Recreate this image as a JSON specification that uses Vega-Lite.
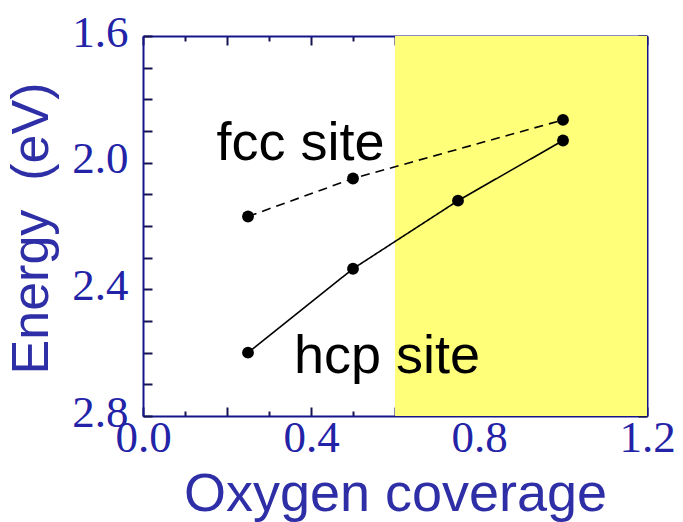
{
  "$schema": "https://vega.github.io/schema/vega-lite/v6.json",
  "autosize": "none",
  "width": 504,
  "height": 380,
  "padding": {"left": 143, "top": 36, "right": 36, "bottom": 106},
  "background": "white",
  "config": {
    "view": {"stroke": null},
    "axis": {
      "domainColor": "#16168a",
      "domainWidth": 2,
      "tickColor": "#141450",
      "tickWidth": 2,
      "grid": false,
      "labelFont": "Liberation Serif",
      "labelFontSize": 45,
      "labelColor": "#2323a8",
      "titleFont": "Liberation Sans",
      "titleFontSize": 52,
      "titleFontWeight": "normal",
      "titleColor": "#2e2ea6"
    }
  },
  "datasets": {
    "region": [{"x0": 0.6, "x1": 1.2, "y0": 1.6, "y1": 2.8}],
    "energy": [
      {"site": "fcc", "coverage": 0.25, "energy": 2.17},
      {"site": "fcc", "coverage": 0.5, "energy": 2.05},
      {"site": "fcc", "coverage": 1.0, "energy": 1.865},
      {"site": "hcp", "coverage": 0.25, "energy": 2.6},
      {"site": "hcp", "coverage": 0.5, "energy": 2.335},
      {"site": "hcp", "coverage": 0.75, "energy": 2.12},
      {"site": "hcp", "coverage": 1.0, "energy": 1.93}
    ],
    "labels": [
      {"text": "fcc site", "coverage": 0.375, "energy": 1.99},
      {"text": "hcp site", "coverage": 0.581, "energy": 2.665}
    ]
  },
  "resolve": {"axis": {"x": "independent", "y": "independent"}},
  "layer": [
    {
      "data": {"name": "region"},
      "mark": {"type": "rect", "color": "#ffff7a"},
      "encoding": {
        "x": {
          "field": "x0", "type": "quantitative",
          "scale": {"domain": [0, 1.2], "nice": false, "zero": false},
          "axis": {
            "orient": "bottom",
            "title": "Oxygen coverage",
            "titleFontSize": 54,
            "titleBaseline": "alphabetic",
            "titleY": 94,
            "values": [0, 0.1, 0.2, 0.3, 0.4, 0.5, 0.6, 0.7, 0.8, 0.9, 1.0, 1.1, 1.2],
            "labelExpr": "round(datum.value * 10) % 4 == 0 ? format(datum.value, '.1f') : ''",
            "tickSize": {"condition": {"test": "round(datum.value * 10) % 2 == 0", "value": -9}, "value": -5},
            "labelPadding": 8,
            "labelBaseline": "top",
            "labelFlush": false,
            "labelOverlap": false
          }
        },
        "x2": {"field": "x1"},
        "y": {
          "field": "y0", "type": "quantitative",
          "scale": {"domain": [1.6, 2.8], "nice": false, "zero": false, "reverse": true},
          "axis": {
            "orient": "left",
            "title": "Energy\u00a0\u00a0(eV)",
            "titleBaseline": "middle",
            "titleX": -112,
            "titleY": 192,
            "values": [1.6, 1.7, 1.8, 1.9, 2.0, 2.1, 2.2, 2.3, 2.4, 2.5, 2.6, 2.7, 2.8],
            "labelExpr": "round(datum.value * 10) % 4 == 0 ? format(datum.value, '.1f') : ''",
            "tickSize": -9,
            "labelPadding": 24,
            "labelOffset": -4,
            "labelBaseline": "middle",
            "labelFlush": false,
            "labelOverlap": false
          }
        },
        "y2": {"field": "y1"}
      }
    },
    {
      "data": {"name": "energy"},
      "mark": {"type": "line", "color": "black", "strokeWidth": 1.6},
      "encoding": {
        "x": {
          "field": "coverage", "type": "quantitative",
          "axis": {
            "orient": "top",
            "title": null,
            "labels": false,
            "values": [0, 0.1, 0.2, 0.3, 0.4, 0.5, 0.6, 0.7, 0.8, 0.9, 1.0, 1.1, 1.2],
            "tickSize": {"condition": {"test": "round(datum.value * 10) % 2 == 0", "value": -9}, "value": -5}
          }
        },
        "y": {
          "field": "energy", "type": "quantitative",
          "axis": {
            "orient": "right",
            "title": null,
            "labels": false,
            "values": [1.6, 1.7, 1.8, 1.9, 2.0, 2.1, 2.2, 2.3, 2.4, 2.5, 2.6, 2.7, 2.8],
            "tickSize": -9
          }
        },
        "detail": {"field": "site"},
        "strokeDash": {
          "field": "site", "type": "nominal",
          "scale": {"domain": ["fcc", "hcp"], "range": [[9, 6], [1, 0]]},
          "legend": null
        }
      }
    },
    {
      "data": {"name": "energy"},
      "mark": {"type": "point", "filled": true, "shape": "circle", "size": 140, "color": "black", "opacity": 1},
      "encoding": {
        "x": {"field": "coverage", "type": "quantitative", "axis": null},
        "y": {"field": "energy", "type": "quantitative", "axis": null}
      }
    },
    {
      "data": {"name": "labels"},
      "mark": {"type": "text", "font": "Liberation Sans", "fontSize": 54, "color": "black", "align": "center", "baseline": "alphabetic"},
      "encoding": {
        "x": {"field": "coverage", "type": "quantitative", "axis": null},
        "y": {"field": "energy", "type": "quantitative", "axis": null},
        "text": {"field": "text"}
      }
    }
  ]
}
